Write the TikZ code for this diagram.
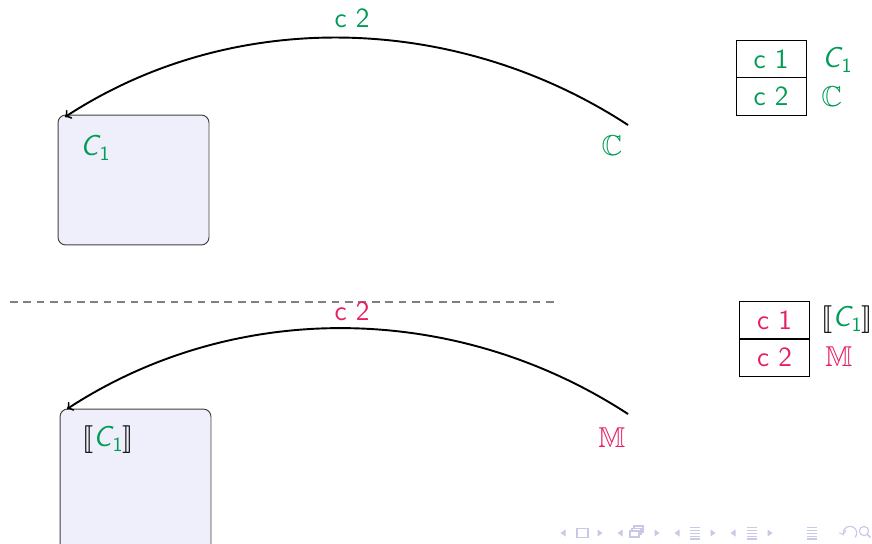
\documentclass[tikz,border=0pt]{standalone}
\usepackage{amssymb}
\usepackage{stmaryrd}
\usepackage{fontspec}
\definecolor{cgreen}{RGB}{0,155,85}
\definecolor{cpink}{RGB}{232,30,100}
\definecolor{boxfill}{RGB}{239,239,251}
\definecolor{navcol}{RGB}{200,200,232}
\newcommand\mysz{\fontsize{15}{18}\selectfont}
\newcommand\Cone{{\sffamily\itshape C}\kern0.04em\raisebox{-0.4ex}{\sffamily\fontsize{10.5}{12}\selectfont 1}}
\tikzset{
  cbox/.style={draw=black!75, fill=boxfill, rounded corners=4pt, line width=0.5pt, minimum width=2.771cm, inner sep=0pt},
  cell/.style={draw=black, line width=0.5pt, minimum width=1.284cm, minimum height=0.688cm, inner sep=0pt, font=\sffamily\fontsize{14.5}{17}\selectfont},
  lbl/.style={font=\sffamily\fontsize{14.5}{17}\selectfont, inner sep=0pt},
  sym/.style={font=\mysz, inner sep=0pt},
  curvearrow/.style={->, line width=1pt, black},
  navsym/.style={navcol, fill=navcol},
  navline/.style={navcol, line width=0.6pt},
}
\begin{document}
\begin{tikzpicture}[x=0.018349cm, y=-0.018349cm]
\useasboundingbox (0,0) rectangle (872,543);
\clip (0,0) rectangle (872,543);
% ---------- top half ----------
\node[cbox, minimum height=2.385cm] (boxA) at (133.5,180) {};
\node[sym, text=cgreen, anchor=west] (cA) at (80,148) {\Cone};
\node[sym, text=cgreen] (CC) at (612,146) {$\mathbb{C}$};
\coordinate (sA) at (628,125);
\coordinate (eA) at (65,117);
\draw[curvearrow] (sA) .. controls (458,14) and (235,6) .. (eA);
\node[lbl, text=cgreen] (lA) at (352,18) {c 2};
\node[cell, text=cgreen] (tA1) at (771,59) {c 1};
\node[cell, text=cgreen] (tA2) at (771,96.5) {c 2};
\node[sym, text=cgreen, anchor=west] (tA1l) at (822,60) {\Cone};
\node[sym, text=cgreen, anchor=west] (tA2l) at (821,97) {$\mathbb{C}$};
% ---------- separator ----------
\coordinate (dL) at (10,302);
\coordinate (dR) at (557,302);
\draw[gray, line width=0.8pt, dash pattern=on 4pt off 3pt] (dL) -- (dR);
% ---------- bottom half ----------
\node[cbox, minimum height=2.752cm] (boxB) at (135.5,484) {};
\node[sym, anchor=west] (cB) at (82,440) {$\llbracket$\textcolor{cgreen}{\Cone}$\rrbracket$};
\node[sym, text=cpink] (MM) at (612,438) {$\mathbb{M}$};
\coordinate (sB) at (628,414);
\coordinate (eB) at (67,409);
\draw[curvearrow] (sB) .. controls (458,303) and (237,298) .. (eB);
\node[lbl, text=cpink] (lB) at (352,311) {c 2};
\node[cell, text=cpink] (tB1) at (774.5,320.5) {c 1};
\node[cell, text=cpink] (tB2) at (774.5,357.5) {c 2};
\node[sym, anchor=west] (tB1l) at (821,320) {$\llbracket$\textcolor{cgreen}{\Cone}$\rrbracket$};
\node[sym, text=cpink, anchor=west] (tB2l) at (825,357) {$\mathbb{M}$};
% ---------- navigation symbols ----------
\foreach \x in {563,620,677,733}{\fill[navsym] (\x+2.5,529.5) -- (\x-2.5,533) -- (\x+2.5,536.5) -- cycle;}
\foreach \x in {600,657,713,770}{\fill[navsym] (\x-2.5,529.5) -- (\x+2.5,533) -- (\x-2.5,536.5) -- cycle;}
\draw[navline] (577,528.5) rectangle (588,537.5);
\draw[navline, fill=white] (634,526) rectangle (643,532);
\draw[navline, fill=white] (632,528.5) rectangle (641,534.5);
\draw[navline, fill=white] (630,531) rectangle (639,537);
\foreach \x in {695,752,812}{
  \foreach \yy in {527.5,530.5,533.5,536.5,539}{\draw[navline] (\x-5,\yy) -- (\x+5,\yy);}
}
\coordinate (undo) at (850,533);
\coordinate (find) at (864,531);
\draw[navline, ->] ([shift={(-40:3.5pt)}]undo) arc[start angle=-40, end angle=200, radius=3.5pt];
\draw[navline] (find) circle[radius=2.4pt];
\draw[navline, line width=0.9pt] ([shift={(-45:2.4pt)}]find) -- ([shift={(-45:4.8pt)}]find);
\end{tikzpicture}
\end{document}
